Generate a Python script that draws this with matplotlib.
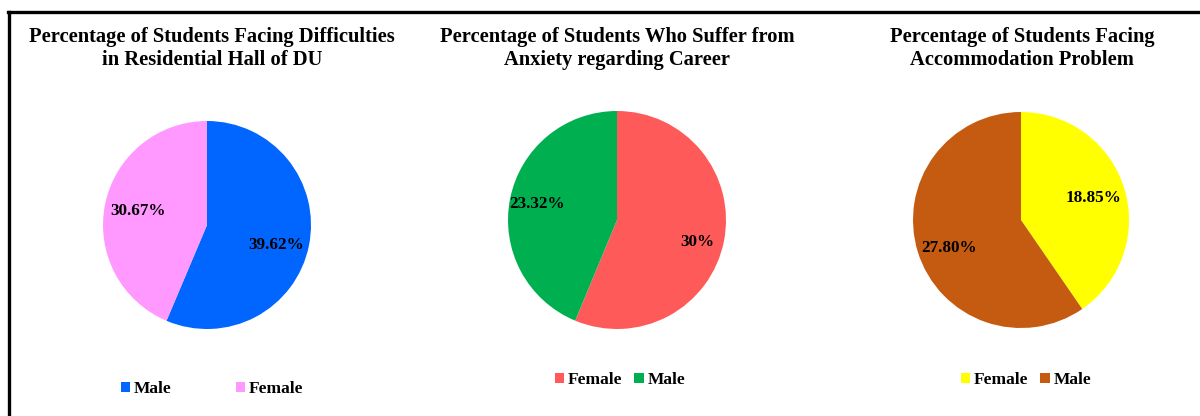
import matplotlib.pyplot as plt
from matplotlib.lines import Line2D

plt.rcParams['font.family'] = ['Liberation Serif', 'DejaVu Serif']
plt.rcParams['font.weight'] = 'bold'

# three survey results, one pie each
titles = ['Percentage of Students Facing Difficulties\nin Residential Hall of DU',
          'Percentage of Students Who Suffer from\nAnxiety regarding Career',
          'Percentage of Students Facing\nAccommodation Problem']
hall_labels = ['Male', 'Female']
hall_values = [39.62, 30.67]
anxiety_labels = ['Female', 'Male']
anxiety_values = [30, 23.32]
accom_labels = ['Female', 'Male']
accom_values = [18.85, 27.80]

hall_colors = ['#0066FF', '#FF99FF']
anxiety_colors = ['#FF5A5A', '#00B050']
accom_colors = ['#FFFF00', '#C55A11']


def pct_text(v):
    if v == int(v):
        return '%d%%' % v
    return '%.2f%%' % v


W, H = 1200, 416
fig = plt.figure(figsize=(12, 4.16), dpi=100)

# pixel centres / radius for each pie, title centre, legend spot
layout = [
    dict(cx=207, cy=225, r=104, tx=212, lx=212, ly=389, cs=3.7, ld=0.68),
    dict(cx=617, cy=220, r=109, tx=617, lx=620, ly=380, cs=0.7, ld=0.75),
    dict(cx=1021, cy=220, r=108, tx=1022, lx=1026, ly=380, cs=0.7, ld=0.70),
]
datasets = [(hall_labels, hall_values, hall_colors),
            (anxiety_labels, anxiety_values, anxiety_colors),
            (accom_labels, accom_values, accom_colors)]

for title, (labels, values, colors), lay in zip(titles, datasets, layout):
    cx, cy, r = lay['cx'], lay['cy'], lay['r']
    ax = fig.add_axes([(cx - r) / W, 1 - (cy + r) / H, 2 * r / W, 2 * r / H])
    wedges, texts = ax.pie(values, colors=colors, startangle=90, counterclock=False,
                           labels=[pct_text(v) for v in values], labeldistance=lay['ld'],
                           wedgeprops=dict(linewidth=0),
                           textprops=dict(fontsize=12.3, fontweight='bold', color='black',
                                          ha='center', va='center'))
    for t in texts:
        t.set_ha('center')
        # labels in the lower half sit a little further down
        x, y = t.get_position()
        if y < 0:
            t.set_position((x, y - 0.055))
    ax.set_xlim(-1, 1)
    ax.set_ylim(-1, 1)
    ax.set_aspect('equal')

    fig.text(lay['tx'] / W, 1 - 48.5 / H, title, ha='center', va='center',
             fontsize=14.8, fontweight='bold', linespacing=1.25)

    fig.legend(wedges, labels, loc='center', bbox_to_anchor=(lay['lx'] / W, 1 - lay['ly'] / H),
               ncol=2, frameon=False, fontsize=12.5, handlelength=0.55, handleheight=0.55,
               handletextpad=0.2, columnspacing=lay['cs'])

# frame along the top and left edge
fig.add_artist(Line2D([8.5 / W, 8.5 / W], [0, 1 - 12 / H], color='black', lw=2.4,
                      transform=fig.transFigure))
fig.add_artist(Line2D([7.5 / W, 1], [1 - 12 / H, 1 - 12 / H], color='black', lw=2.4,
                      transform=fig.transFigure))

fig.savefig('out.png', dpi=100, facecolor='white')
